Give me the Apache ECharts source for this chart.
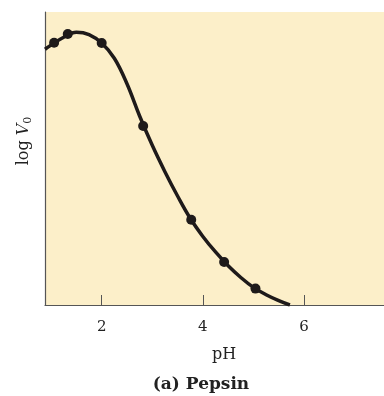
<!DOCTYPE html>
<html>
<head>
<meta charset="utf-8">
<script src="https://cdn.jsdelivr.net/npm/echarts@6/dist/echarts.min.js"></script>
<style>html,body{margin:0;padding:0;background:#fff}#c{width:384px;height:396px}</style>
</head>
<body>
<div id="c"></div>
<script>
// Measured points (pH, log V0 in arbitrary units)
const pointPH = [1.06, 1.33, 2.0, 2.82, 3.77, 4.42, 5.04];
const pointLogV = [8.95, 9.25, 8.94, 6.11, 2.91, 1.47, 0.56];
// Fitted curve
const curvePH = [0.88, 1.0, 1.25, 1.5, 1.75, 2.0, 2.25, 2.5, 2.75, 3.0, 3.25, 3.5, 3.75, 4.0, 4.25, 4.5, 4.75, 5.0, 5.25, 5.5, 5.72];
const curveLogV = [8.73, 8.87, 9.14, 9.31, 9.23, 8.94, 8.42, 7.55, 6.45, 5.45, 4.55, 3.72, 2.96, 2.34, 1.81, 1.34, 0.94, 0.60, 0.35, 0.15, 0.0];
const xTicks = [2, 4, 6];

const serif = '"DejaVu Serif", "Liberation Serif", serif';
const chart = echarts.init(document.getElementById('c'), null, {renderer: 'canvas'});
chart.setOption({
  animation: false,
  grid: {left: 45, right: 0, top: 12, bottom: 91, show: true, backgroundColor: '#FCEFC9', borderWidth: 0},
  xAxis: {
    type: 'value', min: 0.88, max: 7.58,
    axisLine: {show: true, lineStyle: {color: '#555', width: 1.2}},
    axisTick: {show: true, inside: true, length: 10, customValues: xTicks, lineStyle: {color: '#555', width: 1}},
    axisLabel: {customValues: xTicks, margin: 15, fontFamily: serif, fontSize: 15, color: '#222'},
    splitLine: {show: false}
  },
  yAxis: {
    type: 'value', min: 0, max: 10,
    axisLine: {show: true, lineStyle: {color: '#555', width: 1.2}},
    axisTick: {show: false}, axisLabel: {show: false}, splitLine: {show: false}
  },
  series: [
    {type: 'line', data: curvePH.map((x, i) => [x, curveLogV[i]]), smooth: 0.4, showSymbol: false,
     lineStyle: {color: '#1e1a1a', width: 3.5}, z: 2},
    {type: 'scatter', data: pointPH.map((x, i) => [x, pointLogV[i]]), symbolSize: 10,
     itemStyle: {color: '#1e1a1a', opacity: 1}, z: 3}
  ],
  graphic: [
    {type: 'text', style: {text: 'pH', fontFamily: serif, fontSize: 16, fill: '#222', x: 224, y: 355, align: 'center', verticalAlign: 'middle'}},
    {type: 'text', style: {text: '(a) Pepsin', fontFamily: serif, fontWeight: 'bold', fontSize: 17, fill: '#222', x: 201, y: 385, align: 'center', verticalAlign: 'middle'}},
    {type: 'text', x: 24, y: 141, rotation: Math.PI / 2,
     style: {text: '{n|log }{v|V}{s|0}', x: 0, y: 0, align: 'center', verticalAlign: 'middle',
       rich: {n: {fontFamily: serif, fontSize: 16, fill: '#222'}, v: {fontFamily: serif, fontStyle: 'italic', fontSize: 16, fill: '#222'}, s: {fontFamily: serif, fontSize: 11, fill: '#222', verticalAlign: 'bottom', padding: [8, 0, 0, 0]}}}}
  ]
});
</script>
</body>
</html>
